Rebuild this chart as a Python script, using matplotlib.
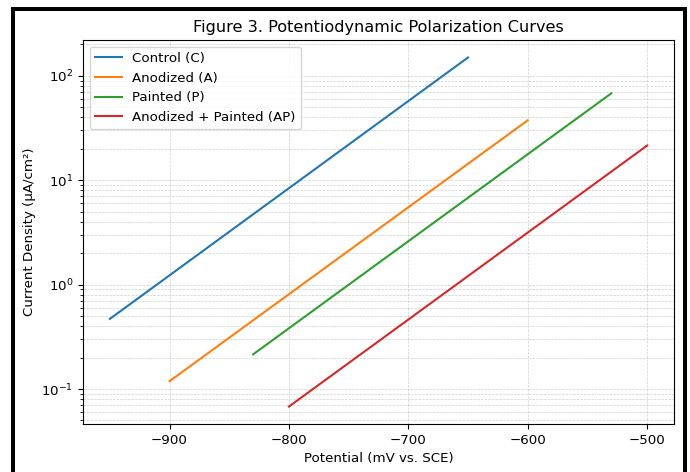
import matplotlib
matplotlib.use("Agg")
import matplotlib.pyplot as plt
from matplotlib.patches import Rectangle

# Potential (mV vs. SCE) and current density (uA/cm^2) read at the
# ends of each straight Tafel line.
control_e = [-950, -650]
control_i = [0.47, 150]
anodized_e = [-900, -600]
anodized_i = [0.119, 37.5]
painted_e = [-830, -530]
painted_i = [0.215, 68]
ap_e = [-800, -500]
ap_i = [0.068, 21.5]

LABELS = ["Control (C)", "Anodized (A)", "Painted (P)", "Anodized + Painted (AP)"]

plt.rcParams["font.size"] = 9.6

W, H = 690, 472
fig = plt.figure(figsize=(W / 100, H / 100), dpi=100)
ax = fig.add_axes([83 / W, 1 - 424 / H, (674 - 83) / W, (424 - 40) / H])

series = [(control_e, control_i), (anodized_e, anodized_i),
          (painted_e, painted_i), (ap_e, ap_i)]
for (e, i), lab in zip(series, LABELS):
    ax.plot(e, i, linewidth=1.5, label=lab)

ax.set_yscale("log")
ax.grid(True, which="both", linestyle="--", linewidth=0.5, alpha=0.6)
ax.set_xlabel("Potential (mV vs. SCE)")
ax.set_ylabel("Current Density (µA/cm²)")
ax.set_title("Figure 3. Potentiodynamic Polarization Curves", fontsize=11.6)
ax.legend(loc="upper left")

# thick black frame around the figure (bottom edge falls off the image)
fig.patches.append(Rectangle(
    (12.5 / W, -0.05), (685 - 12.5) / W, 1.05 - 9 / H,
    transform=fig.transFigure, fill=False, edgecolor="black",
    linewidth=4 * 72 / 100, zorder=10))

fig.savefig("out.png", dpi=100)
